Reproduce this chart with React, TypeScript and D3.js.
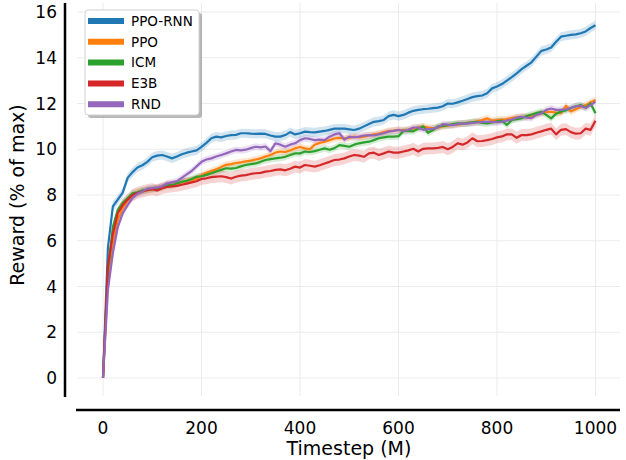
import React from 'react';
import * as d3 from 'd3';

// ---- data ----
const timesteps: number[] = d3.range(0, 1001, 10);

const seriesNames = ['PPO-RNN', 'PPO', 'ICM', 'E3B', 'RND'];
const seriesColors = ['#1f77b4', '#ff7f0e', '#2ca02c', '#d62728', '#9467bd'];
const bandHalfWidth = [0.2, 0.15, 0.15, 0.26, 0.15];

const ppoRnn = [
  0, 5.7, 7.5, 7.8, 8.1, 8.75, 9.0, 9.2, 9.3, 9.45,
  9.65, 9.72, 9.75, 9.68, 9.6, 9.68, 9.78, 9.85, 9.9, 9.95,
  10.1, 10.28, 10.48, 10.55, 10.52, 10.58, 10.62, 10.63, 10.7, 10.7,
  10.68, 10.67, 10.68, 10.67, 10.6, 10.55, 10.55, 10.62, 10.75, 10.65,
  10.7, 10.77, 10.75, 10.74, 10.77, 10.8, 10.85, 10.9, 10.9, 10.9,
  10.87, 10.84, 10.9, 11.0, 11.1, 11.2, 11.23, 11.28, 11.45, 11.5,
  11.45, 11.5, 11.6, 11.68, 11.72, 11.75, 11.77, 11.8, 11.82, 11.88,
  12.0, 11.99, 12.05, 12.12, 12.2, 12.28, 12.32, 12.35, 12.45, 12.66,
  12.74, 12.85, 13.0, 13.15, 13.32, 13.5, 13.65, 13.8, 14.05, 14.3,
  14.36, 14.45, 14.7, 14.92, 14.96, 15.0, 15.02, 15.07, 15.15, 15.3,
  15.42,
];

const ppo = [
  0, 4.3, 5.9, 6.9, 7.43, 7.75, 7.96,
  8.1, 8.18, 8.2, 8.25, 8.3, 8.35, 8.4, 8.45, 8.5, 8.55, 8.6, 8.65, 8.7,
  8.85, 8.97, 9.05, 9.12, 9.22, 9.32, 9.35, 9.4, 9.43, 9.47, 9.5, 9.55, 9.6, 9.68, 9.75, 9.85, 9.9, 9.88, 9.95, 10.04,
  10.1, 10.04, 10.0, 10.2, 10.28, 10.33, 10.4, 10.47, 10.5, 10.48, 10.5, 10.55, 10.52, 10.55, 10.6, 10.65, 10.68, 10.75, 10.8, 10.82,
  10.85, 10.84, 10.86, 10.9, 10.95, 11.0, 10.95, 10.92, 10.95, 11.0, 11.03, 11.06, 11.08, 11.12, 11.15, 11.18, 11.22, 11.28, 11.35, 11.25,
  11.28, 11.3, 11.32, 11.36, 11.4, 11.42, 11.42, 11.45, 11.52, 11.58, 11.62, 11.64, 11.6, 11.58, 11.9, 11.65, 11.75, 11.85, 11.93, 12.05, 12.15,
];

const icm = [
  0, 4.7, 6.6, 7.35, 7.66, 7.87, 8.08,
  8.12, 8.2, 8.22, 8.27, 8.28, 8.32, 8.45, 8.42, 8.51, 8.58, 8.62, 8.7, 8.8,
  8.82, 8.88, 8.95, 9.03, 9.1, 9.17, 9.15, 9.18, 9.25, 9.31, 9.35, 9.38, 9.45, 9.53, 9.57, 9.6, 9.63, 9.67, 9.75, 9.82,
  9.82, 9.9, 9.88, 9.92, 9.98, 10.04, 9.98, 10.05, 10.18, 10.15, 10.11, 10.2, 10.26, 10.3, 10.33, 10.4, 10.48, 10.52, 10.55, 10.55,
  10.57, 10.8, 10.8, 10.78, 10.9, 11.0, 10.72, 10.84, 11.0, 11.02, 11.05, 11.1, 11.13, 11.12, 11.15, 11.18, 11.2, 11.15, 11.13, 11.17,
  11.22, 11.25, 11.06, 11.28, 11.32, 11.36, 11.45, 11.52, 11.58, 11.64, 11.5, 11.35, 11.55, 11.65, 11.7, 11.8, 11.88, 11.93, 11.82, 12.0, 11.57,
];

const e3b = [
  0, 4.9, 6.3, 7.2, 7.56, 7.8, 8.0,
  8.1, 8.15, 8.22, 8.25, 8.2, 8.3, 8.35, 8.38, 8.4, 8.45, 8.5, 8.55, 8.6,
  8.7, 8.73, 8.78, 8.8, 8.82, 8.78, 8.72, 8.8, 8.85, 8.87, 8.92, 8.95, 8.97, 9.02, 9.05, 9.1, 9.12, 9.08, 9.15, 9.24,
  9.2, 9.31, 9.28, 9.24, 9.3, 9.38, 9.45, 9.53, 9.55, 9.6, 9.68, 9.75, 9.72, 9.67, 9.82, 9.85, 9.75, 9.82, 9.9, 9.85,
  9.85, 9.9, 9.95, 10.02, 9.9, 10.02, 10.04, 10.04, 10.06, 10.1, 10.0, 10.1, 10.26, 10.2, 10.3, 10.48, 10.35, 10.36, 10.4, 10.45,
  10.52, 10.56, 10.65, 10.65, 10.5, 10.62, 10.62, 10.65, 10.72, 10.78, 10.85, 10.9, 10.65, 10.85, 10.88, 10.75, 10.68, 10.7, 10.9, 10.85, 11.25,
];

const rnd = [
  0, 3.85, 5.45, 6.6, 7.2, 7.56, 7.87,
  8.05, 8.15, 8.28, 8.3, 8.33, 8.38, 8.5, 8.55, 8.6, 8.75, 8.9, 9.05, 9.25,
  9.45, 9.55, 9.6, 9.68, 9.75, 9.82, 9.9, 9.97, 9.95, 9.98, 10.05, 10.11, 10.08, 10.12, 9.92, 10.26, 10.2, 10.11, 10.2, 10.26,
  10.4, 10.48, 10.45, 10.4, 10.42, 10.4, 10.55, 10.65, 10.7, 10.42, 10.55, 10.52, 10.55, 10.6, 10.62, 10.6, 10.65, 10.7, 10.77, 10.8,
  10.84, 10.8, 10.85, 10.95, 10.95, 10.85, 10.88, 10.9, 10.95, 11.1, 11.08, 11.05, 11.1, 11.13, 11.12, 11.15, 11.17, 11.2, 11.2, 11.2,
  11.18, 11.2, 11.25, 11.3, 11.38, 11.42, 11.38, 11.36, 11.5, 11.57, 11.72, 11.78, 11.72, 11.72, 11.75, 11.8, 11.88, 11.9, 11.8, 11.93, 12.08,
];

const seriesValues = [ppoRnn, ppo, icm, e3b, rnd];

const xTicks = [0, 200, 400, 600, 800, 1000];
const yTicks = [0, 2, 4, 6, 8, 10, 12, 14, 16];
const xTitle = 'Timestep (M)';
const yTitle = 'Reward (% of max)';

// ---- layout ----
const W = 626;
const H = 460;
const plotLeft = 77;
const plotRight = 620;
const plotTop = 3;
const plotBottom = 396;
const leftSpineX = 65;
const bottomSpineY = 410;
const FONT = '"DejaVu Sans", sans-serif';

export default function App() {
  const x = d3.scaleLinear().domain([0, 1000]).range([103, 595.5]);
  const y = d3.scaleLinear().domain([0, 16]).range([378, 12]);

  const line = d3
    .line<[number, number]>()
    .x((d) => x(d[0]))
    .y((d) => y(d[1]));

  const area = d3
    .area<[number, number, number]>()
    .x((d) => x(d[0]))
    .y0((d) => y(d[1] - d[2]))
    .y1((d) => y(d[1] + d[2]));

  const legendX = 85;
  const legendY = 10;
  const legendW = 114;
  const legendH = 105;
  const rowY = (i: number) => legendY + 11 + i * 20.8;

  return (
    <svg
      width={W}
      height={H}
      style={{ position: 'absolute', left: 0, top: 0, background: '#fff' }}
      fontFamily={FONT}
    >
      {/* grid */}
      <g>
        {xTicks.map((t) => (
          <line key={'gx' + t} x1={x(t)} x2={x(t)} y1={plotTop} y2={plotBottom} stroke="#ebebeb" strokeWidth={1} />
        ))}
        {yTicks.map((t) => (
          <line key={'gy' + t} x1={plotLeft} x2={plotRight} y1={y(t)} y2={y(t)} stroke="#ebebeb" strokeWidth={1} />
        ))}
      </g>

      {/* bands */}
      <g>
        {seriesValues.map((vals, i) => (
          <path
            key={'band' + i}
            d={area(vals.map((v, j) => [timesteps[j], v, j === 0 ? 0 : bandHalfWidth[i]] as [number, number, number])) || ''}
            fill={seriesColors[i]}
            fillOpacity={0.2}
            stroke="none"
          />
        ))}
      </g>

      {/* lines */}
      <g>
        {seriesValues.map((vals, i) => (
          <path
            key={'line' + i}
            d={line(vals.map((v, j) => [timesteps[j], v] as [number, number])) || ''}
            fill="none"
            stroke={seriesColors[i]}
            strokeWidth={2.2}
            strokeLinejoin="round"
          />
        ))}
      </g>

      {/* spines */}
      <line x1={leftSpineX} x2={leftSpineX} y1={plotTop} y2={plotBottom + 1} stroke="#000" strokeWidth={2.5} />
      <line x1={plotLeft - 1} x2={plotRight} y1={bottomSpineY} y2={bottomSpineY} stroke="#000" strokeWidth={2.5} />

      {/* tick labels */}
      {yTicks.map((t) => (
        <text key={'yl' + t} x={57} y={y(t)} dy="0.36em" textAnchor="end" fontSize={17} fill="#000">
          {t}
        </text>
      ))}
      {xTicks.map((t) => (
        <text key={'xl' + t} x={x(t)} y={434} textAnchor="middle" fontSize={17} fill="#000">
          {t}
        </text>
      ))}

      {/* axis titles */}
      <text x={349} y={455} textAnchor="middle" fontSize={19} fill="#000">
        {xTitle}
      </text>
      <text
        transform={`translate(24, ${y(8)}) rotate(-90)`}
        textAnchor="middle"
        fontSize={19}
        fill="#000"
      >
        {yTitle}
      </text>

      {/* legend */}
      <rect x={legendX + 3} y={legendY + 3} width={legendW} height={legendH} rx={3} fill="#888" fillOpacity={0.6} />
      <rect x={legendX} y={legendY} width={legendW} height={legendH} rx={3} fill="#fff" stroke="#d0d0d0" strokeWidth={1} />
      {seriesNames.map((name, i) => (
        <g key={'lg' + i}>
          <line x1={88} x2={124} y1={rowY(i)} y2={rowY(i)} stroke={seriesColors[i]} strokeWidth={6} />
          <text x={131} y={rowY(i)} dy="0.36em" fontSize={13.5} fill="#000">
            {name}
          </text>
        </g>
      ))}
    </svg>
  );
}
